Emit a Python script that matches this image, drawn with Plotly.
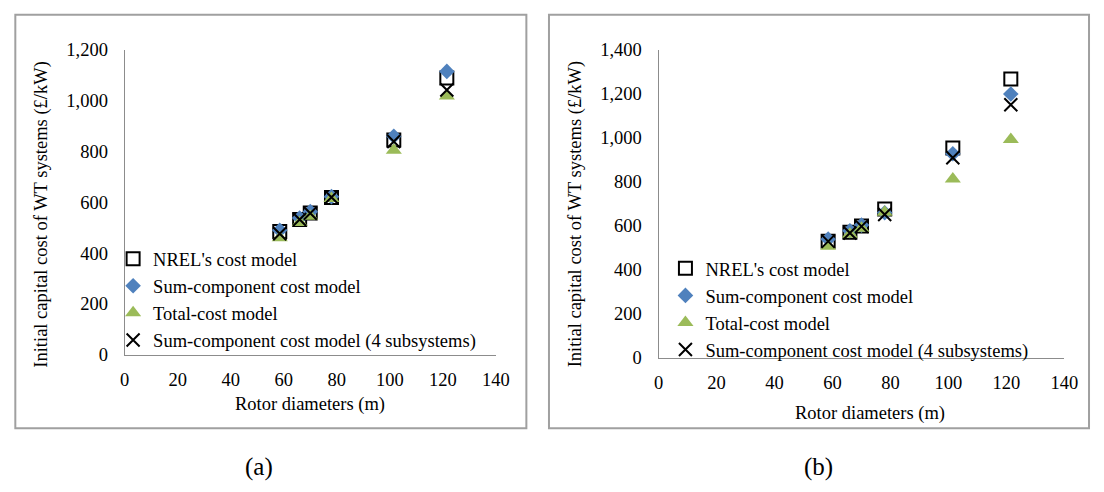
import plotly.graph_objects as go

W, H = 1104, 492

rotor_d = [58.5, 66, 70, 78, 101.5, 121.5]

nrel_a = [485, 532, 558, 619, 845, 1089]
sumc_a = [490, 538, 563, 622, 860, 1115]
total_a = [460, 520, 545, 615, 805, 1018]
sum4_a = [476, 532, 557, 620, 839, 1042]

nrel_b = [530, 571, 600, 677, 955, 1268]
sumc_b = [540, 578, 604, 660, 928, 1200]
total_b = [508, 562, 590, 662, 814, 993]
sum4_b = [530, 568, 598, 652, 910, 1151]

series_names = ["NREL's cost model", "Sum-component cost model",
                "Total-cost model", "Sum-component cost model (4 subsystems)"]
x_ticks = [0, 20, 40, 60, 80, 100, 120, 140]
y_ticks_a = [0, 200, 400, 600, 800, 1000, 1200]
y_ticks_b = [0, 200, 400, 600, 800, 1000, 1200, 1400]

FONT = "Liberation Serif, Times New Roman, serif"
FS = 18.5

styles = [
    dict(symbol="square-open", size=13, color="black", line=dict(width=2, color="black")),
    dict(symbol="diamond", size=12, color="#4F81BD", line=dict(width=0)),
    dict(symbol="triangle-up", size=14, color="#9BBB59", line=dict(width=0)),
    dict(symbol="x-thin", size=13, color="black", line=dict(width=2, color="black")),
]

fig = go.Figure()
for panel, data, xa, ya, leg in [
    ("a", [nrel_a, sumc_a, total_a, sum4_a], "x", "y", "legend"),
    ("b", [nrel_b, sumc_b, total_b, sum4_b], "x2", "y2", "legend2"),
]:
    for i, (name, ys) in enumerate(zip(series_names, data)):
        fig.add_trace(go.Scatter(
            x=rotor_d, y=ys, mode="markers", name=name,
            marker=styles[i], xaxis=xa, yaxis=ya, legend=leg,
            legendgroup=f"{panel}{i}",
        ))

def px_x(p):
    return p / W

def px_y(p):
    return 1 - p / H

axis_common = dict(
    showgrid=False, zeroline=False, showline=True, linecolor="#8C8C8C", linewidth=1,
    ticks="", tickfont=dict(family=FONT, size=FS, color="black"),
)

fig.update_layout(
    width=W, height=H,
    margin=dict(l=0, r=0, t=0, b=0),
    paper_bgcolor="white", plot_bgcolor="white",
    font=dict(family=FONT, size=FS, color="black"),
    xaxis=dict(domain=[px_x(121.7), px_x(499.5)], range=[0, 140], tickvals=x_ticks,
               anchor="y", ticklabelstandoff=8, **axis_common),
    yaxis=dict(domain=[px_y(359.3), px_y(41.5)], range=[0, 1200], tickvals=y_ticks_a,
               tickformat=",d", anchor="x", ticklabelstandoff=12, **axis_common),
    xaxis2=dict(domain=[px_x(665), px_x(1078)], range=[0, 140], tickvals=x_ticks,
                anchor="y2", ticklabelstandoff=8, **axis_common),
    yaxis2=dict(domain=[px_y(362.7), px_y(41.7)], range=[0, 1400], tickvals=y_ticks_b,
                tickformat=",d", anchor="x2", ticklabelstandoff=12, **axis_common),
    legend=dict(x=px_x(110), y=px_y(240), xanchor="left", yanchor="top",
                bgcolor="rgba(0,0,0,0)", traceorder="grouped", tracegroupgap=0,
                font=dict(family=FONT, size=FS, color="black"), itemwidth=30),
    legend2=dict(x=px_x(672), y=px_y(250), xanchor="left", yanchor="top",
                 bgcolor="rgba(0,0,0,0)", traceorder="grouped", tracegroupgap=0,
                 font=dict(family=FONT, size=FS, color="black"), itemwidth=30),
    showlegend=True,
)

# panel borders
fig.add_shape(type="rect", xref="paper", yref="paper",
              x0=px_x(10.5), x1=px_x(530.5), y0=px_y(436), y1=px_y(5),
              line=dict(color="#A0A0A0", width=2), fillcolor="rgba(0,0,0,0)", layer="below")
fig.add_shape(type="rect", xref="paper", yref="paper",
              x0=px_x(553.5), x1=px_x(1103), y0=px_y(436), y1=px_y(5),
              line=dict(color="#A0A0A0", width=2), fillcolor="rgba(0,0,0,0)", layer="below")

# axis titles
for xc, yc, txt, ang in [
    (310.5, 411.7, "Rotor diameters (m)", 0),
    (880, 420.7, "Rotor diameters (m)", 0),
    (37, 213, "Initial capital cost of WT systems (£/kW)", -90),
    (580, 213, "Initial capital cost of WT systems (£/kW)", -90),
]:
    fig.add_annotation(x=px_x(xc), y=px_y(yc), xref="paper", yref="paper",
                       text=txt, showarrow=False, textangle=ang,
                       xanchor="center", yanchor="middle",
                       font=dict(family=FONT, size=FS, color="black"))

# panel labels
for xc, txt in [(258, "(a)"), (828, "(b)")]:
    fig.add_annotation(x=px_x(xc), y=px_y(476), xref="paper", yref="paper",
                       text=txt, showarrow=False, xanchor="center", yanchor="middle",
                       font=dict(family=FONT, size=25, color="black"))

fig.write_html("out.html")
